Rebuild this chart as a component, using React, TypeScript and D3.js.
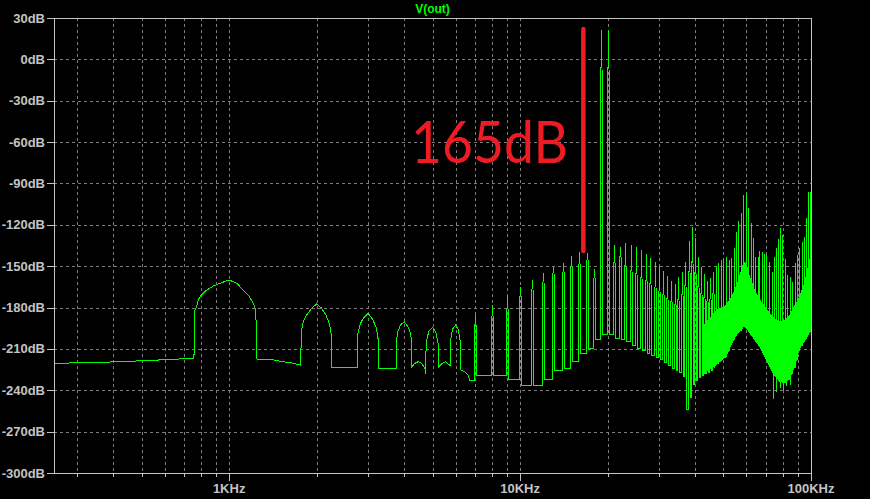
import React from 'react';
import * as d3 from 'd3';

const W = 870;
const H = 499;
const PLOT = { left: 54, top: 18, right: 811, bottom: 473 };

// Axis definitions
const yTicks = [30, 0, -30, -60, -90, -120, -150, -180, -210, -240, -270, -300];
const xGridHz = [300, 400, 500, 600, 700, 800, 900, 1000, 2000, 3000, 4000, 5000, 6000, 7000, 8000, 9000, 10000, 20000, 30000, 40000, 50000, 60000, 70000, 80000, 90000];
const xMajorHz = [1000, 10000, 100000];
const xMajorLabels = ['1KHz', '10KHz', '100KHz'];
const traceName = 'V(out)';

// Low-frequency part of the trace (Hz, dB)
const lowFreqHz = [250, 327, 418, 514, 606, 705, 757, 760, 773, 783, 794, 815, 837, 882, 930, 1001, 1061, 1118, 1163, 1210, 1236, 1240,
  1245, 1418, 1535, 1661, 1760,
  1769, 1775, 1797, 1846, 1921, 1999, 2079, 2151, 2208, 2233, 2256, 2257,
  2755, 2762, 2787, 2831, 2890, 3007, 3112, 3195, 3238, 3253, 3255,
  3750, 3752, 3800, 3880, 4000, 4120, 4200, 4248, 4250,
  4350, 4465, 4585, 4707, 4745,
  4752, 4850, 5000, 5130, 5230, 5250,
  5400, 5550, 5700, 5748,
  5752, 5850, 6000, 6130, 6230, 6250,
  6460, 6630, 6723];
const lowDb = [-220.4, -220.0, -219.3, -218.5, -217.8, -217.1, -216.6, -182.5, -179.4, -174.5, -172.1, -169.7, -167.3, -164.4, -162.4, -160.0, -162.4, -167.3, -170.9, -176.9, -181.8, -216.8,
  -217.3, -218.0, -219.3, -220.4, -221.7,
  -203.5, -196.3, -190.3, -185.4, -180.5, -177.4, -180.5, -185.4, -191.4, -196.3, -203.5, -223.3,
  -223.3, -200.0, -196.3, -191.4, -187.8, -184.2, -188.5, -193.9, -199.9, -203.5, -224.1,
  -224.1, -204.8, -197.5, -192.7, -190.3, -193.9, -198.7, -206.0, -222.9,
  -220.4, -219.3, -220.4, -224.1, -228.2,
  -206.0, -197.5, -194.6, -197.5, -206.0, -222.9,
  -220.4, -219.3, -221.5, -222.0,
  -206.0, -196.0, -192.7, -196.0, -205.0, -225.3,
  -226.5, -228.9, -233.1];

// Harmonic spikes, one per kHz
const harmonicKHz = [7, 8, 9, 10, 11, 12, 13, 14, 15, 16, 17, 18, 19, 20, 21, 22, 23, 24, 25, 26, 27, 28, 29, 30, 31, 32, 33, 34, 35, 36, 37, 38, 39, 40, 41, 42, 43, 44, 45, 46];
const peakDb = [-185.4, -178.2, -172, -164.9, -160, -154.7, -150.4, -148, -142.6, -139.5, -140.7, -152.3, 21, 21, -134.7, -135.9, -133.4, -134.6, -135.9, -138.3, -141.2, -143.9, -146.7, -149.9, -153.3, -157.1, -160.5, -162.9, -158.1, -154, -146.7, -131.5, -121.4, -129.8, -143.1, -150.4, -155.7, -160.5, -158.8, -154];
const shoulderDb = [-198.7, -193.9, -190, -178, -173.3, -168.5, -160, -160, -157.6, -157.6, -150, -165, -34, -34, -160, -150, -165, -172, -175, -178, -179, -181, -184, -186, -188, -190, -191, -192, -191, -188, -182, -176, -173, -180, -186, -189, -190, -190, -189, -186];
const valleyDb = [-229, -229.6, -232.5, -236.2, -236.2, -232.5, -225.3, -224.1, -219.3, -213.2, -209.6, -203.5, -199.2, -199.9, -202.3, -203.5, -204.8, -207.5, -209.6, -211, -213, -214.5, -216, -218, -220, -222, -224, -225.5, -227, -230, -254, -245, -236, -233, -231, -229, -228, -227, -226, -224];

// Dense high-frequency band: envelope of the solid mass
const massKHz = [43, 47.1, 51, 53.9, 55.6, 57.4, 58.8, 60.2, 61.6, 64.1, 66.7, 69.4, 72.2, 75.1, 78.1, 81.3, 84.6, 88, 91.5, 94.5, 96.8, 99.1, 100];
const massTopDb = [-192, -182, -178, -170, -163, -153, -146, -149, -157, -167, -174, -179, -184, -188, -190, -189, -185, -178, -171, -163, -153, -144, -142];
const massBottomDb = [-228, -222, -216, -205, -200, -197, -194, -196, -199, -204, -209, -216, -224, -230, -234, -235, -232, -223, -210, -205, -202, -198, -197];

// Tall spikes inside the dense band
const denseKHz = [47.1, 47.9, 49.0, 50.0, 51.1, 52.2, 53.3, 54.3, 55.3, 56.3, 57.5, 58.6, 59.7, 60.8, 62.0, 63.1, 64.3, 65.5, 66.5, 67.8, 69.0, 70.3, 71.6, 73.2, 74.5, 75.9, 77.1, 78.3, 79.8, 81.3, 82.8, 84.4, 85.9, 87.8, 89.4, 91.0, 92.8, 94.5, 96.2, 97.8, 99.6];
const densePeakDb = [-149.9, -147.9, -145.5, -144.3, -143.6, -145.5, -144.3, -137, -125, -117, -111.7, -98.4, -97.6, -108, -118.9, -129.8, -143.6, -143.1, -138.8, -139.5, -141.2, -141.9, -146.7, -154, -143.1, -137, -130.5, -122.5, -127.4, -145, -156.4, -158.1, -161.3, -147.9, -141.9, -137, -132.2, -128.6, -115.3, -96, -96];

// Downward dips below the dense band
const dipKHz = [74.0, 75.8, 78.0, 79.9, 82.0, 84.5];
const dipDb = [-246, -241, -238, -240, -237, -236];

// Annotation
const annotationText = '165dB';
const annotationKHz = 16.5;
const annotationTopDb = 22;
const annotationBottomDb = -139;

const GREEN = '#00ff00';
const LABEL = '#c4c4c4';
const GRID = '#7c7c7c';
const RED = '#ed1c24';

export default function App() {
  const x = d3.scaleLog().domain([250, 100000]).range([PLOT.left, PLOT.right]);
  const y = d3.scaleLinear().domain([-300, 30]).range([PLOT.bottom, PLOT.top]);

  // Build trace
  const pts: [number, number][] = lowFreqHz.map((f, i) => [x(f), y(lowDb[i])]);
  let prev = lowDb[lowDb.length - 1];
  harmonicKHz.forEach((k, i) => {
    const cx = Math.round(x(k * 1000)) + 0.5;
    pts.push([cx - 1, y(prev)]);
    pts.push([cx - 1, y(shoulderDb[i])]);
    pts.push([cx, y(peakDb[i])]);
    pts.push([cx + 1, y(shoulderDb[i])]);
    pts.push([cx + 1, y(valleyDb[i])]);
    prev = valleyDb[i];
  });
  const line = d3.line<[number, number]>().x(d => d[0]).y(d => d[1]);
  const tracePath = line(pts) || '';

  const massArea = d3.area<number>()
    .x((_, i) => x(massKHz[i] * 1000))
    .y0((_, i) => y(massBottomDb[i]))
    .y1((_, i) => y(massTopDb[i]));
  const massPath = massArea(massKHz) || '';
  const bottomAt = d3.scaleLog().domain(massKHz).range(massBottomDb);

  return (
    <svg width={W} height={H} style={{ position: 'fixed', left: 0, top: 0, display: 'block' }}
      xmlns="http://www.w3.org/2000/svg">
      <rect x={0} y={0} width={W} height={H} fill="#000" />
      {/* grid */}
      <g shapeRendering="crispEdges" stroke={GRID} strokeWidth={1} strokeDasharray="3,3">
        {yTicks.filter(v => v !== 30 && v !== -300).map(v => (
          <line key={'gy' + v} x1={PLOT.left} x2={PLOT.right} y1={Math.round(y(v)) + 0.5} y2={Math.round(y(v)) + 0.5} />
        ))}
        {xGridHz.map(f => (
          <line key={'gx' + f} x1={Math.round(x(f)) + 0.5} x2={Math.round(x(f)) + 0.5} y1={PLOT.top} y2={PLOT.bottom} />
        ))}
      </g>
      {/* trace */}
      <g shapeRendering="crispEdges">
        <path d={massPath} fill={GREEN} stroke="none" />
        {denseKHz.map((k, i) => {
          const cx = Math.round(x(k * 1000)) + 0.5;
          return <line key={'ds' + i} x1={cx} x2={cx} y1={y(bottomAt(k))} y2={y(densePeakDb[i])} stroke={GREEN} strokeWidth={1} />;
        })}
        {dipKHz.map((k, i) => {
          const cx = Math.round(x(k * 1000)) + 0.5;
          return <line key={'dp' + i} x1={cx} x2={cx} y1={y(bottomAt(k))} y2={y(dipDb[i])} stroke={GREEN} strokeWidth={1} />;
        })}
        <path d={tracePath} fill="none" stroke={GREEN} strokeWidth={1} />
      </g>
      {/* frame */}
      <g shapeRendering="crispEdges" stroke={LABEL} strokeWidth={1} fill="none">
        <rect x={PLOT.left + 0.5} y={PLOT.top + 0.5} width={PLOT.right - PLOT.left} height={PLOT.bottom - PLOT.top} />
        {yTicks.map(v => (
          <line key={'ty' + v} x1={PLOT.left - 7} x2={PLOT.left} y1={Math.round(y(v)) + 0.5} y2={Math.round(y(v)) + 0.5} />
        ))}
        {xGridHz.map(f => (
          <line key={'tx' + f} x1={Math.round(x(f)) + 0.5} x2={Math.round(x(f)) + 0.5} y1={PLOT.bottom} y2={PLOT.bottom + 4} />
        ))}
        {xMajorHz.map(f => (
          <line key={'tm' + f} x1={Math.round(x(f)) + 0.5} x2={Math.round(x(f)) + 0.5} y1={PLOT.bottom} y2={PLOT.bottom + 8} />
        ))}
      </g>
      {/* labels */}
      <g fontFamily="'Liberation Sans', Arial, sans-serif" fontWeight="bold" fontSize={13} fill={LABEL}>
        {yTicks.map(v => (
          <text key={'ly' + v} x={PLOT.left - 9} y={y(v)} textAnchor="end" dominantBaseline="central">{`${v}dB`}</text>
        ))}
        {xMajorHz.map((f, i) => (
          <text key={'lx' + f} x={x(f)} y={493} textAnchor="middle">{xMajorLabels[i]}</text>
        ))}
      </g>
      <text x={(PLOT.left + PLOT.right) / 2} y={13} textAnchor="middle" fontFamily="'Liberation Sans', Arial, sans-serif"
        fontWeight="bold" fontSize={12} fill={GREEN}>{traceName}</text>
      {/* annotation */}
      <line x1={x(annotationKHz * 1000)} x2={x(annotationKHz * 1000)} y1={y(annotationTopDb)} y2={y(annotationBottomDb)}
        stroke={RED} strokeWidth={4.5} strokeLinecap="round" />
      <text x={568} y={163} textAnchor="end" fontFamily="Lato, 'Noto Sans', sans-serif" fontSize={58} fill={RED}
        textLength={157} lengthAdjust="spacingAndGlyphs">{annotationText}</text>
    </svg>
  );
}
